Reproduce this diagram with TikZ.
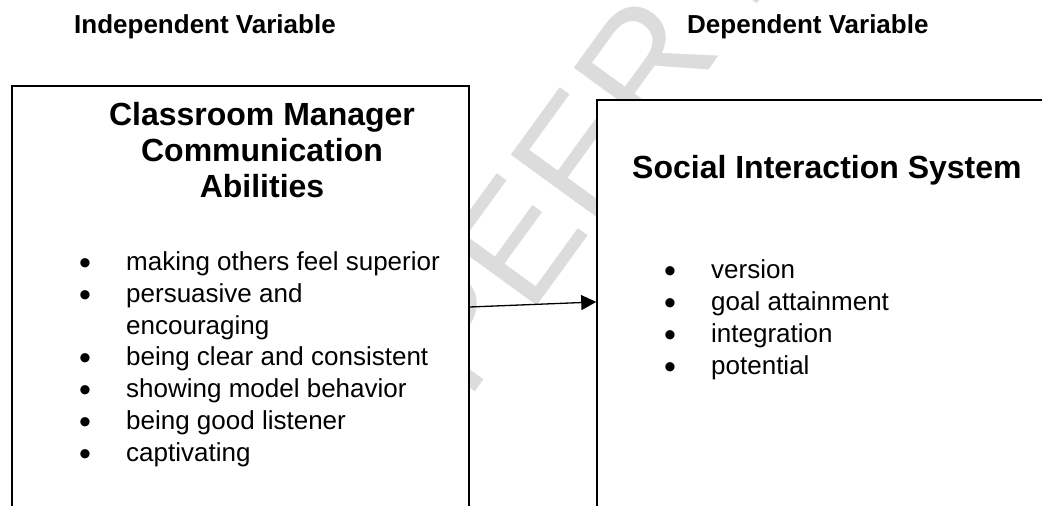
\documentclass[tikz,border=0pt]{standalone}
\usepackage{fontspec}
\setmainfont{Liberation Sans}
\usetikzlibrary{arrows.meta}
\definecolor{wmgray}{HTML}{DCDCDC}

\begin{document}
\begin{tikzpicture}[x=1pt,y=-1pt]

        \useasboundingbox (0,0) rectangle (1042,506);
        \clip (0,0) rectangle (1042,506);

        % watermark behind the boxes
        \node[rotate=54,anchor=base west,inner sep=0,text=wmgray,
              font=\fontsize{160}{160}\selectfont] (wmark) at (467,403) {PEER REVIEW};

        \begin{scope}[every node/.style={draw,line width=1.6pt,fill=white,inner sep=0}]
          \node[minimum width=457pt,minimum height=442pt] (ivbox) at (240.5,307) {};
          \node[minimum width=460pt,minimum height=420pt] (dvbox) at (827,310) {};
        \end{scope}

        \draw[line width=1.3pt,-{Triangle[length=15pt,width=15pt]}] (ivbox.east) -- (dvbox.178);

        \begin{scope}[every node/.style={anchor=base west,inner sep=0,font=\fontsize{26}{31}\selectfont\bfseries}]
          \node (ivhead) at (74,33)  {Independent Variable};
          \node (dvhead) at (687,33) {Dependent Variable};
        \end{scope}

        % multi-line nodes sit on their last baseline
        \begin{scope}[every node/.style={inner sep=0,font=\fontsize{32}{36}\selectfont\bfseries}]
          \node[anchor=base,align=center] (ivtitle) at (262,197) {Classroom Manager\\Communication\\Abilities};
          \node[anchor=base west] (dvtitle) at (632,178) {Social Interaction System};
        \end{scope}

        \begin{scope}[every node/.style={anchor=base,inner sep=0,font=\fontsize{34}{34}\selectfont}]
          \node (ivb1) at (85,274) {•};
          \node (ivb2) at (85,306) {•};
          \node (ivb3) at (85,369) {•};
          \node (ivb4) at (85,401) {•};
          \node (ivb5) at (85,433) {•};
          \node (ivb6) at (85,465) {•};
          \node (dvb1) at (670,282) {•};
          \node (dvb2) at (670,314) {•};
          \node (dvb3) at (670,346) {•};
          \node (dvb4) at (670,378) {•};
        \end{scope}

        \begin{scope}[every node/.style={anchor=base west,inner sep=0,font=\fontsize{26}{31.8}\selectfont}]
          \node (ivi1) at (126,270) {making others feel superior};
          \node[align=left] (ivi2) at (126,334) {persuasive and\\encouraging};
          \node (ivi3) at (126,365) {being clear and consistent};
          \node (ivi4) at (126,397) {showing model behavior};
          \node (ivi5) at (126,429) {being good listener};
          \node (ivi6) at (126,461) {captivating};

          \node (dvi1) at (711,278) {version};
          \node (dvi2) at (711,310) {goal attainment};
          \node (dvi3) at (711,342) {integration};
          \node (dvi4) at (711,374) {potential};
        \end{scope}

      \end{tikzpicture}
\end{document}
